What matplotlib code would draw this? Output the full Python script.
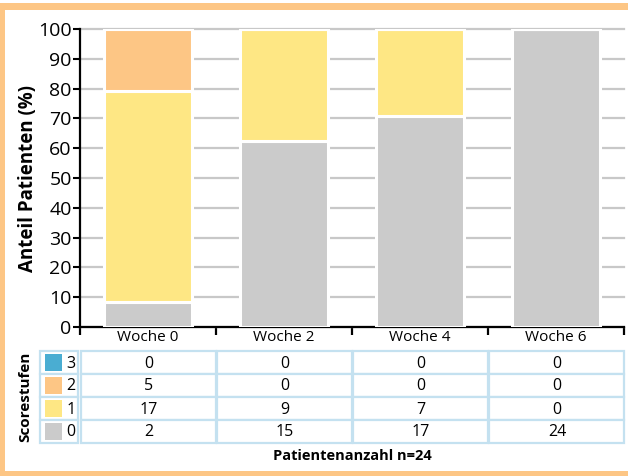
import matplotlib
matplotlib.use("Agg")
import matplotlib.pyplot as plt
from matplotlib.patches import Rectangle
import numpy as np

plt.rcParams['font.family'] = ['Open Sans', 'DejaVu Sans']

# Patient counts per score level at each visit
weeks = ['Woche 0', 'Woche 2', 'Woche 4', 'Woche 6']
score_levels = ['0', '1', '2', '3']
count_0 = [2, 15, 17, 24]
count_1 = [17, 9, 7, 0]
count_2 = [5, 0, 0, 0]
count_3 = [0, 0, 0, 0]
n_patients = 24
y_ticks = list(range(0, 101, 10))

counts = [count_0, count_1, count_2, count_3]
colors = ['#cbcbcb', '#fee784', '#fdc685', '#4aadd2']
frame_color = '#fdc685'
table_line = '#c4e1f0'

W, H = 628, 476
fig = plt.figure(figsize=(W / 100, H / 100), dpi=100)
fig.patch.set_facecolor('white')

# overlay in pixel coordinates for the frame and the count table
ov = fig.add_axes([0, 0, 1, 1], zorder=0)
ov.set_xlim(0, W)
ov.set_ylim(H, 0)
ov.axis('off')

# orange frame (left, top, bottom)
ov.add_patch(Rectangle((0, 3), 5, H - 3, color=frame_color, lw=0))
ov.add_patch(Rectangle((0, 3), W, 7, color=frame_color, lw=0))
ov.add_patch(Rectangle((0, H - 5), W, 5, color=frame_color, lw=0))

# main stacked bar chart
ax_l, ax_r, ax_t, ax_b = 80, 624, 29, 327
ax = fig.add_axes([ax_l / W, 1 - ax_b / H, (ax_r - ax_l) / W, (ax_b - ax_t) / H], zorder=2)
ax.patch.set_alpha(0)
x = np.arange(len(weeks)) + 0.5
bottom = np.zeros(len(weeks))
for c, col in zip(counts, colors):
    pct = np.array(c) / n_patients * 100
    ax.bar(x, pct, width=0.65, bottom=bottom, color=col,
           edgecolor='white', linewidth=2.2, zorder=3)
    bottom += pct

ax.set_xlim(0, len(weeks))
ax.set_ylim(0, 100)
ax.set_yticks(y_ticks)
ax.set_yticklabels([str(t) for t in y_ticks], fontsize=14)
ax.yaxis.grid(True, color='#c8c8c8', linewidth=1.6, zorder=1)
ax.set_axisbelow(True)
for gl in ax.get_ygridlines():
    gl.set_clip_on(False)

ax.set_xticks(np.arange(len(weeks) + 1))
ax.set_xticklabels([])
ax.set_xticks(x, minor=True)
ax.set_xticklabels(weeks, minor=True, fontsize=11)
ax.tick_params(axis='x', which='major', direction='out', length=6, width=1.6, color='black')
ax.tick_params(axis='x', which='minor', length=0, pad=2)
ax.tick_params(axis='y', direction='out', length=5, width=1.5, pad=1)
for s in ['top', 'right']:
    ax.spines[s].set_visible(False)
for s in ['left', 'bottom']:
    ax.spines[s].set_linewidth(1.6)
    ax.spines[s].set_color('black')
ax.set_ylabel('Anteil Patienten (%)', fontsize=13.5, fontweight='bold', labelpad=0)

# count table below the chart
row_top, row_h = 351, 23
col_w = (ax_r - ax_l) / len(weeks)
leg_l, leg_r = 40, 78
for r, lvl in enumerate(reversed(range(len(score_levels)))):
    y0 = row_top + r * row_h
    ov.add_patch(Rectangle((leg_l, y0), leg_r - leg_l, row_h, facecolor='white',
                           edgecolor=table_line, lw=1.6))
    ov.add_patch(Rectangle((45, y0 + 3), 17, row_h - 6, facecolor=colors[lvl], lw=0))
    ov.text(71, y0 + row_h / 2 + 1, score_levels[lvl], ha='center', va='center', fontsize=11.5)
    for i in range(len(weeks)):
        x0 = ax_l + 1 + i * col_w
        ov.add_patch(Rectangle((x0, y0), col_w - 1, row_h, facecolor='white',
                               edgecolor=table_line, lw=1.6))
        ov.text(x0 + col_w / 2, y0 + row_h / 2 + 1, str(counts[lvl][i]),
                ha='center', va='center', fontsize=11.5)

ov.text(25, row_top + 2 * row_h, 'Scorestufen', rotation=90, ha='center', va='center',
        fontsize=11, fontweight='bold')
ov.text((ax_l + ax_r) / 2, 456, f'Patientenanzahl n={n_patients}', ha='center', va='center',
        fontsize=10.5, fontweight='bold')

fig.savefig('out.png', dpi=100, facecolor='white')
